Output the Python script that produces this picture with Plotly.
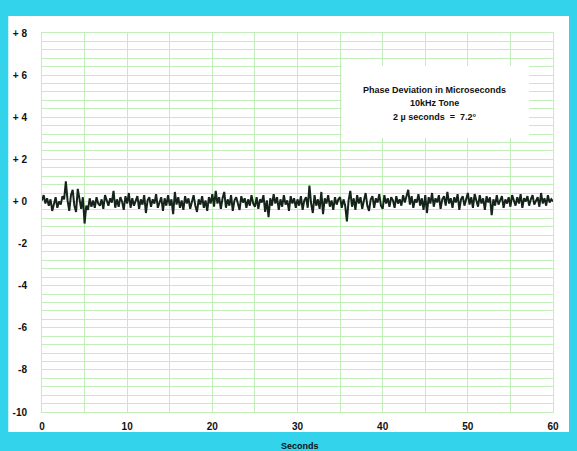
import plotly.graph_objects as go
import numpy as np

# time axis, one reading every 0.2 s
seconds = np.round(np.arange(0, 60.01, 0.2), 1)

# phase deviation (microseconds) in 5 s blocks
phase = [
    0.05, 0.3, -0.1, 0.15, -0.2, 0.1, -0.45, -0.1, 0.2, -0.3, 0.0, -0.15, 0.25, 0.1, 0.95, 0.05, -0.45, 0.3, 0.55, -0.2, -0.5, 0.6, 0.0, -0.35, 0.2,
    -1.05, -0.2, -0.4, 0.15, -0.25, 0.05, -0.3, 0.2, -0.1, -0.2, 0.1, -0.35, 0.3, 0.05, -0.2, 0.15, -0.05, 0.5, -0.3, 0.1, -0.25, 0.2, 0.0, -0.4, 0.25,
    -0.1, 0.4, -0.3, 0.15, -0.2, 0.05, 0.25, -0.35, 0.1, -0.15, 0.3, -0.55, 0.05, 0.2, -0.25, 0.1, -0.1, 0.35, -0.3, -0.05, 0.2, -0.45, 0.15, -0.2, 0.3,
    -0.2, 0.1, -0.6, 0.45, -0.15, 0.2, -0.3, 0.05, -0.4, 0.25, -0.1, 0.15, -0.35, 0.0, 0.3, -0.2, -0.5, 0.1, -0.15, 0.25, -0.3, 0.05, -0.45, 0.2, -0.1,
    0.35, -0.25, 0.5, -0.1, 0.2, -0.35, 0.15, 0.45, -0.3, 0.1, -0.2, 0.3, -0.45, 0.05, 0.2, -0.15, -0.4, 0.25, -0.05, 0.15, -0.3, 0.1, -0.2, 0.3, -0.1,
    -0.25, 0.2, -0.35, 0.1, -0.05, 0.3, -0.5, 0.05, -0.75, 0.15, -0.2, 0.35, -0.1, 0.2, -0.4, 0.1, -0.25, 0.3, -0.15, 0.05, -0.45, 0.25, -0.1, 0.15, -0.3,
    0.1, -0.2, 0.25, -0.4, 0.05, 0.2, -0.3, 0.75, -0.1, -0.55, 0.3, -0.2, 0.1, -0.35, 0.45, -0.6, 0.15, -0.1, 0.3, -0.25, 0.05, -0.4, 0.2, -0.15, 0.1,
    0.2, -0.3, 0.1, -0.2, -0.95, 0.05, 0.5, -0.25, 0.15, -0.4, 0.3, -0.1, 0.2, -0.35, 0.05, 0.4, -0.2, -0.45, 0.1, 0.25, -0.3, 0.15, -0.05, 0.35, -0.2,
    -0.35, 0.3, -0.1, 0.15, -0.25, 0.2, 0.05, -0.3, 0.25, -0.1, 0.1, -0.2, 0.3, -0.05, 0.2, 0.55, -0.15, 0.25, -0.3, 0.1, -0.05, 0.35, -0.2, 0.15, -0.4,
    0.3, -0.55, 0.2, -0.1, 0.4, -0.25, 0.15, -0.05, 0.3, -0.35, 0.1, 0.25, -0.2, 0.45, -0.1, 0.15, -0.3, 0.2, -0.05, 0.35, -0.4, 0.1, 0.25, -0.2, 0.05,
    0.4, -0.15, 0.2, -0.3, 0.35, 0.05, -0.25, 0.3, -0.1, 0.15, -0.4, 0.25, -0.05, 0.2, -0.65, 0.1, -0.2, 0.3, -0.15, 0.05, 0.25, -0.3, 0.1, -0.1, 0.2,
    -0.25, 0.3, 0.05, -0.2, 0.2, -0.1, 0.35, -0.3, 0.15, 0.0, 0.25, -0.2, 0.1, 0.3, -0.15, 0.05, 0.2, -0.25, 0.4, -0.1, 0.15, -0.2, 0.3, -0.05, 0.1, 0.0,
]

x_ticks = [0, 10, 20, 30, 40, 50, 60]
y_ticks = [8, 6, 4, 2, 0, -2, -4, -6, -8, -10]
y_tick_text = ["+ 8", "+ 6", "+ 4", "+ 2", "+ 0", "-2", "-4", "-6", "-8", "-10"]
note_lines = ["Phase Deviation in Microseconds", "10kHz Tone", "2 \u00b5 seconds  =  7.2\u00b0"]

scan_blue = "#33d3ec"
grid = "#c2efb9"
font = dict(family="Arial", size=10, color="#111111", weight="bold")

fig = go.Figure(go.Scatter(
    x=seconds, y=phase, mode="lines",
    line=dict(color="#15241a", width=2),
    showlegend=False,
))

# the page body adds an 8px offset, so the figure is 8px smaller than the window
fig.update_layout(
    width=569, height=443,
    margin=dict(l=34, r=24, t=25, b=39),
    paper_bgcolor=scan_blue,
    plot_bgcolor="white",
    font=font,
)

fig.update_xaxes(
    range=[0, 60], tickvals=x_ticks, tickfont=font,
    ticks="outside", ticklen=5, tickcolor="rgba(0,0,0,0)",
    showgrid=True, gridcolor=grid, gridwidth=1,
    minor=dict(dtick=5, tick0=0, showgrid=True, gridcolor=grid, gridwidth=1),
    showline=True, linecolor=grid, mirror=True, zeroline=False, automargin=False,
)
fig.update_yaxes(
    range=[-10, 8], tickvals=y_ticks, ticktext=y_tick_text, tickfont=font,
    ticks="outside", ticklen=12, tickcolor="rgba(0,0,0,0)",
    showgrid=True, gridcolor=grid, gridwidth=1,
    minor=dict(dtick=0.4, tick0=-10, showgrid=True, gridcolor=grid, gridwidth=1),
    showline=True, linecolor=grid, mirror=True, zeroline=False, automargin=False,
)

# white page of the scan, and the white box behind the note
fig.add_shape(type="rect", xref="paper", yref="paper", x0=-0.066, x1=1.035, y0=-0.053, y1=1.045,
              fillcolor="white", line_width=0, layer="below")
fig.add_shape(type="rect", xref="paper", yref="paper", x0=0.587, x1=0.953, y0=0.723, y1=0.913,
              fillcolor="white", line_width=0, layer="above")

for text, yy in zip(note_lines, [0.85, 0.815, 0.778]):
    fig.add_annotation(text=text, xref="paper", yref="paper", x=0.769, y=yy,
                       xanchor="center", yanchor="middle", showarrow=False,
                       font=dict(family="Arial", size=9, color="#111111", weight="bold"))

fig.add_annotation(text="Seconds", xref="paper", yref="paper", x=0.505, y=-0.09,
                   xanchor="center", yanchor="middle", showarrow=False,
                   font=dict(family="Arial", size=9, color="#111111", weight="bold"))

fig.write_html("out.html", post_script=f"document.body.style.background='{scan_blue}';")
